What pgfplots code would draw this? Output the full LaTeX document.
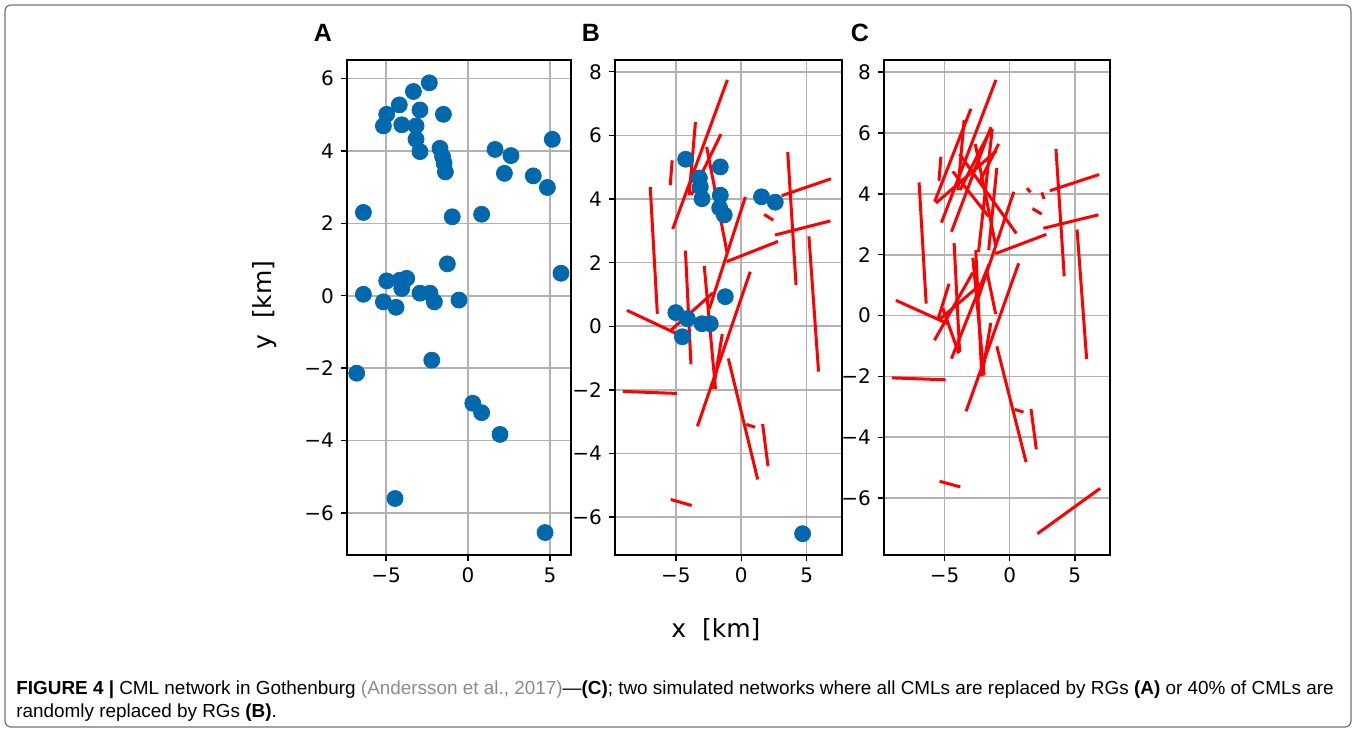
\documentclass[border=0pt]{standalone}
\usepackage{pgfplots}
\pgfplotsset{compat=1.18}
\usepackage{fontspec}
\setmainfont{DejaVu Sans}
\newfontfamily\capfont{Liberation Sans}
\definecolor{rgblue}{RGB}{0,104,172}
\definecolor{capgray}{RGB}{140,140,140}
\newcommand{\seg}[4]{\addplot[red, line width=1.5pt, line cap=rect] coordinates {(#1,#2) (#3,#4)};}
% links kept in both B and C
\newcommand{\sharedlinks}{%
\seg{-1.1}{7.7}{-5.2}{3.1}
\seg{0.28}{4.02}{-2.4}{0.6}
\seg{0.65}{1.67}{-3.31}{-3.10}
\seg{-1.0}{2.05}{2.7}{2.65}
\seg{2.7}{2.88}{6.7}{3.3}
\seg{3.56}{5.43}{4.18}{1.34}
\seg{3.2}{4.12}{6.75}{4.62}
\seg{5.18}{2.78}{5.9}{-1.38}
\seg{-6.95}{4.33}{-6.42}{0.44}
\seg{1.85}{3.49}{2.35}{3.36}
\seg{-8.63}{0.48}{-4.85}{-0.25}
\seg{-0.96}{-1.06}{1.23}{-4.77}
\seg{1.65}{-3.12}{2.03}{-4.35}
\seg{0.5}{-3.1}{0.95}{-3.16}
\seg{-5.27}{-5.46}{-3.9}{-5.62}
\seg{-8.93}{-2.05}{-5.03}{-2.11}
\seg{-4.26}{2.33}{-3.85}{-1.15}
\seg{-2.82}{1.85}{-1.98}{-1.92}
\seg{-1.47}{-0.29}{-2.11}{-1.92}
\seg{-2.62}{5.59}{-1.09}{2.33}
\seg{-5.29}{5.17}{-5.42}{4.48}
\seg{-3.51}{6.37}{-3.97}{4.17}
\seg{-1.60}{6.0}{-3.76}{4.17}
\seg{-5.34}{-0.11}{-2.24}{1.02}
}
\begin{document}
\begin{tikzpicture}[x=1pt,y=1pt]
\useasboundingbox (0,0) rectangle (678,366);
\draw[black!55, line width=0.6pt, rounded corners=3pt] (2.5,2.5) rectangle (675.5,363.5);
\pgfplotsset{panel/.style={
  scale only axis, anchor=south west, height=247.5pt,
  axis line style={line width=0.9pt},
  grid=major, grid style={line width=0.8pt, color=black!30},
  tick align=outside, xtick pos=bottom, ytick pos=left,
  major tick length=3pt, tick style={black, line width=0.7pt},
  ticklabel style={font=\fontsize{10}{12}\selectfont},
  xtick={-5,0,5}, xticklabels={−5,0,5},
  clip=true,
}}
% Panel A
\begin{axis}[panel, at={(173.5pt,88.5pt)}, width=112pt,
  xmin=-7.38, xmax=6.28, ymin=-7.16, ymax=6.51,
  ytick={-6,-4,-2,0,2,4,6}, yticklabels={−6,−4,−2,0,2,4,6}]
\addplot[only marks, mark=*, mark size=4pt, color=rgblue] coordinates {
(-2.36,5.88) (-3.33,5.64) (-4.19,5.27) (-4.96,5.01) (-5.16,4.69) (-4.04,4.72)
(-2.93,5.13) (-3.17,4.69) (-3.17,4.32) (-2.93,3.98) (-1.50,5.01) (-1.71,4.07)
(-1.55,3.84) (-1.46,3.66) (-1.38,3.42) (1.65,4.04) (2.62,3.87) (2.22,3.38)
(3.98,3.31) (4.84,2.99) (5.14,4.32) (-6.38,2.30) (-0.96,2.18) (0.83,2.25)
(-1.26,0.88) (5.67,0.62) (-6.38,0.04) (-4.96,0.41) (-4.04,0.20) (-3.74,0.48)
(-4.15,0.43) (-2.93,0.07) (-2.32,0.07) (-2.05,-0.17) (-5.16,-0.17) (-4.39,-0.32)
(-0.55,-0.12) (-2.21,-1.78) (-6.79,-2.14) (0.29,-2.97) (0.83,-3.23) (1.95,-3.83)
(-4.45,-5.60) (4.70,-6.54)
};
\end{axis}
% Panel B
\begin{axis}[panel, at={(307.5pt,88.5pt)}, width=113.5pt,
  xmin=-9.65, xmax=7.7, ymin=-7.19, ymax=8.37,
  ytick={-6,-4,-2,0,2,4,6,8}, yticklabels={−6,−4,−2,0,2,4,6,8}]
\sharedlinks
\addplot[only marks, mark=*, mark size=4pt, color=rgblue] coordinates {
(-4.25,5.25) (-1.6,5.01) (-3.2,4.66) (-3.13,4.38) (-3.0,4.01) (-1.6,4.12)
(-1.65,3.72) (-1.3,3.5) (1.55,4.07) (2.6,3.9)
(-1.22,0.93) (-5.0,0.43) (-4.12,0.24) (-3.0,0.08) (-2.37,0.08) (-4.5,-0.33)
(4.69,-6.52)
};
\end{axis}
% Panel C
\begin{axis}[panel, at={(442pt,88.5pt)}, width=113pt,
  xmin=-9.65, xmax=7.7, ymin=-7.87, ymax=8.40,
  ytick={-6,-4,-2,0,2,4,6,8}, yticklabels={−6,−4,−2,0,2,4,6,8}]
\sharedlinks
\seg{2.23}{-7.14}{6.85}{-5.71}
\seg{1.40}{4.15}{1.52}{4.09}
\seg{2.50}{4.00}{2.60}{3.88}
\seg{-3.02}{6.75}{-5.72}{3.79}
\seg{-1.48}{6.15}{-4.43}{2.80}
\seg{-1.35}{6.09}{-2.38}{2.14}
\seg{-3.79}{5.27}{0.44}{2.74}
\seg{-1.1}{5.38}{-5.58}{3.73}
\seg{-5.72}{-0.77}{-2.89}{1.37}
\seg{-5.46}{-0.06}{-4.69}{1.0}
\seg{-4.43}{-1.37}{-1.62}{1.65}
\seg{-1.1}{0.1}{-1.75}{1.45}
\seg{-2.6}{2.1}{-2.15}{-1.95}
\seg{-5.1}{0.2}{-3.95}{-1.2}
\seg{-0.9}{5.6}{-2.3}{4.4}
\seg{-4.3}{4.7}{-1.7}{3.3}
\seg{-1.0}{4.8}{-1.6}{2.2}
\end{axis}
% labels
\node[font=\bfseries\capfont\fontsize{12.5}{14}\selectfont, anchor=base] at (161.5,345) {A};
\node[font=\bfseries\capfont\fontsize{12.5}{14}\selectfont, anchor=base] at (295.5,345) {B};
\node[font=\bfseries\capfont\fontsize{12.5}{14}\selectfont, anchor=base] at (430,345) {C};
\node[font=\fontsize{12.5}{14}\selectfont] at (358,51) {x\ \ [km]};
\node[font=\fontsize{12.5}{14}\selectfont, rotate=90] at (132.5,213.5) {y\ \ [km]};
\node[anchor=base west, inner sep=0pt, font=\capfont\fontsize{9.45}{11}\selectfont] at (8,18.5)
  {\textbf{FIGURE 4 |} CML network in Gothenburg {\color{capgray}(Andersson et al., 2017)}—\textbf{(C)}; two simulated networks where all CMLs are replaced by RGs \textbf{(A)} or 40\% of CMLs are};
\node[anchor=base west, inner sep=0pt, font=\capfont\fontsize{9.45}{11}\selectfont] at (8,7)
  {randomly replaced by RGs \textbf{(B)}.};
\end{tikzpicture}
\end{document}
